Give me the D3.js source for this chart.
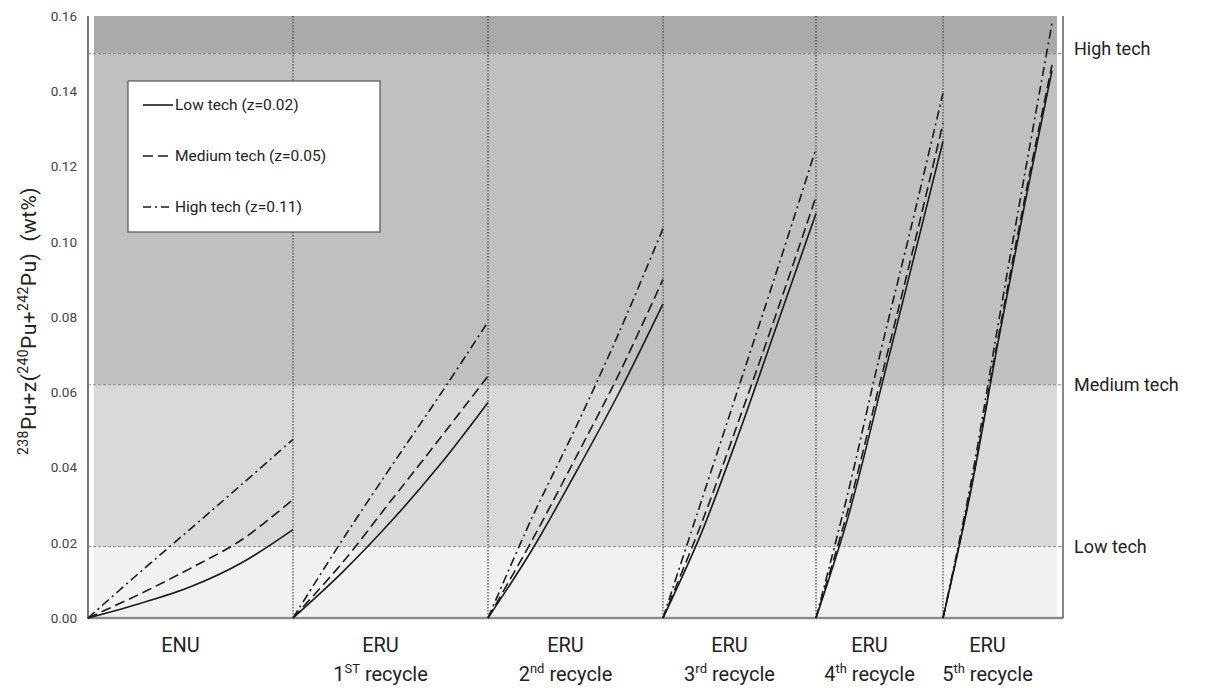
<!DOCTYPE html>
<html>
<head>
<meta charset="UTF-8">
<title>Pu figure of merit by recycle</title>
<style>
  body { margin: 0; background: #fff; }
  svg { font-family: Roboto, "Liberation Sans", sans-serif; }
</style>
</head>
<body>
<svg width="1211" height="688"></svg>
<script src="https://cdn.jsdelivr.net/npm/d3@7/dist/d3.min.js"></script>
<script>
// segment boundaries along the (arbitrary) irradiation axis
const segStarts = [0, 205, 400, 575, 728, 855];
const segEnds = [205, 400, 575, 728, 855, 964];
const segNames = ["ENU", "ERU", "ERU", "ERU", "ERU", "ERU"];
const segSub = [null, ["1", "ST"], ["2", "nd"], ["3", "rd"], ["4", "th"], ["5", "th"]];

// fraction of each segment at which values were read
const frac = [0, 0.25, 0.5, 0.75, 1];

// values (wt%) per segment
const lowTech = [
  [0, 0.0038, 0.0083, 0.0147, 0.0235],
  [0, 0.012, 0.0255, 0.0405, 0.0573],
  [0, 0.018, 0.0385, 0.060, 0.0835],
  [0, 0.0225, 0.0495, 0.0785, 0.1075],
  [0, 0.0265, 0.0595, 0.093, 0.1267],
  [0, 0.033, 0.0725, 0.110, 0.1455]
];
const mediumTech = [
  [0, 0.0063, 0.0132, 0.0208, 0.0315],
  [0, 0.0145, 0.031, 0.0475, 0.0643],
  [0, 0.0205, 0.0425, 0.065, 0.090],
  [0, 0.025, 0.053, 0.082, 0.112],
  [0, 0.0285, 0.062, 0.096, 0.1315],
  [0, 0.0335, 0.0735, 0.1115, 0.147]
];
const highTech = [
  [0, 0.012, 0.0237, 0.0355, 0.0475],
  [0, 0.0205, 0.040, 0.059, 0.0787],
  [0, 0.0265, 0.0505, 0.076, 0.1035],
  [0, 0.031, 0.062, 0.093, 0.1248],
  [0, 0.033, 0.0695, 0.104, 0.1395],
  [0, 0.035, 0.077, 0.118, 0.158]
];

const thresholds = [0.019, 0.062, 0.15];
const thresholdLabels = ["Low tech", "Medium tech", "High tech"];
const bandEdges = [0, 0.019, 0.062, 0.15, 0.16];
const bandColors = ["#f1f1f1", "#d9d9d9", "#c0c0c0", "#aaaaaa"];
const yTicks = [0, 0.02, 0.04, 0.06, 0.08, 0.10, 0.12, 0.14, 0.16];

const series = [
  { name: "Low tech (z=0.02)", values: lowTech, dash: null, legendDash: null },
  { name: "Medium tech (z=0.05)", values: mediumTech, dash: "10,5", legendDash: "10,5" },
  { name: "High tech (z=0.11)", values: highTech, dash: "9,4,2,4", legendDash: "8,4,2,4" }
];

const svg = d3.select("svg");
const mLeft = 88, mRight = 1063, mTop = 16, mBottom = 618;

const x = d3.scaleLinear().domain([0, 969]).range([mLeft, 1057]);
const y = d3.scaleLinear().domain([0, 0.16]).range([mBottom, mTop]);

// shaded bands
svg.append("g")
  .selectAll("rect")
  .data(bandColors)
  .enter()
  .append("rect")
  .attr("x", mLeft + 6)
  .attr("width", x(969) - mLeft - 6)
  .attr("y", (d, i) => y(bandEdges[i + 1]))
  .attr("height", (d, i) => y(bandEdges[i]) - y(bandEdges[i + 1]) - (i === 0 ? 2 : 0))
  .attr("fill", d => d);

// threshold dashed lines
svg.append("g")
  .selectAll("line")
  .data(thresholds)
  .enter()
  .append("line")
  .attr("x1", mLeft)
  .attr("x2", mRight)
  .attr("y1", d => y(d))
  .attr("y2", d => y(d))
  .attr("stroke", "#8f8f8f")
  .attr("stroke-width", 1.2)
  .attr("stroke-dasharray", "3,2");

// segment boundaries
svg.append("g")
  .selectAll("line")
  .data(segStarts.slice(1))
  .enter()
  .append("line")
  .attr("x1", d => x(d))
  .attr("x2", d => x(d))
  .attr("y1", mTop)
  .attr("y2", mBottom)
  .attr("stroke", "#444")
  .attr("stroke-width", 1.2)
  .attr("stroke-dasharray", "1.5,1.5");

// axes frame
svg.append("line").attr("x1", mLeft).attr("x2", mLeft).attr("y1", mTop).attr("y2", mBottom + 1)
  .attr("stroke", "#7a7a7a").attr("stroke-width", 2);
svg.append("line").attr("x1", mLeft).attr("x2", mRight).attr("y1", mBottom).attr("y2", mBottom)
  .attr("stroke", "#8a8a8a").attr("stroke-width", 2.5);
svg.append("line").attr("x1", mRight).attr("x2", mRight).attr("y1", mTop).attr("y2", mBottom)
  .attr("stroke", "#555").attr("stroke-width", 1.4);

// y axis ticks
const yAxis = svg.append("g")
  .attr("transform", `translate(${mLeft},0)`)
  .call(d3.axisLeft(y).tickValues(yTicks).tickFormat(d3.format(".2f")).tickSize(0).tickPadding(11));
yAxis.select(".domain").remove();
yAxis.selectAll("text")
  .attr("font-size", 13.5)
  .attr("fill", "#444")
  .attr("font-family", "Roboto, sans-serif");

// y axis title
const yTitle = svg.append("text")
  .attr("transform", `translate(36,${(mTop + mBottom) / 2 + 4}) rotate(-90)`)
  .attr("text-anchor", "middle")
  .attr("font-size", 21)
  .attr("letter-spacing", 0.4)
  .attr("fill", "#222");
[["238", true], ["Pu+z(", false], ["240", true], ["Pu+", false], ["242", true], ["Pu)  (wt%)", false]]
  .forEach(([t, sup]) => {
    yTitle.append("tspan")
      .attr("baseline-shift", sup ? "super" : null)
      .attr("font-size", sup ? 14 : 21)
      .attr("xml:space", "preserve")
      .text(t);
  });

// curves
const line = d3.line()
  .x(d => x(d[0]))
  .y(d => y(d[1]))
  .curve(d3.curveCatmullRom.alpha(0.5));

series.forEach(s => {
  svg.append("g")
    .selectAll("path")
    .data(s.values)
    .enter()
    .append("path")
    .attr("d", (vals, i) => line(vals.map((v, k) => [segStarts[i] + frac[k] * (segEnds[i] - segStarts[i]), v])))
    .attr("fill", "none")
    .attr("stroke", "#1a1a1a")
    .attr("stroke-width", 1.6)
    .attr("stroke-dasharray", s.dash);
});

// legend
const legend = svg.append("g");
legend.append("rect")
  .attr("x", 128).attr("y", 81).attr("width", 252).attr("height", 151)
  .attr("fill", "#fff").attr("stroke", "#555").attr("stroke-width", 1.2);
const entry = legend.selectAll(".entry")
  .data(series)
  .enter()
  .append("g")
  .attr("transform", (d, i) => `translate(143,${105 + i * 51})`);
entry.append("line")
  .attr("x1", 0).attr("x2", 30).attr("y1", 0).attr("y2", 0)
  .attr("stroke", "#1a1a1a").attr("stroke-width", 1.6)
  .attr("stroke-dasharray", d => d.legendDash);
entry.append("text")
  .attr("x", 32).attr("y", 5)
  .attr("font-size", 15.5)
  .attr("fill", "#222")
  .text(d => d.name);

// right-hand threshold labels
svg.append("g")
  .selectAll("text")
  .data(thresholds)
  .enter()
  .append("text")
  .attr("x", 1074)
  .attr("y", d => y(d) + (d === 0.15 ? 1 : 6))
  .attr("font-size", 18)
  .attr("fill", "#222")
  .text((d, i) => thresholdLabels[i]);

// bottom segment labels
const segLabel = svg.append("g")
  .selectAll("g")
  .data(segNames.map((name, i) => ({ name, sub: segSub[i], i })))
  .enter()
  .append("g")
  .attr("transform", d => `translate(${(x(segStarts[d.i]) + x(segEnds[d.i])) / 2 - 10},0)`);
segLabel.append("text")
  .attr("y", 652)
  .attr("text-anchor", "middle")
  .attr("font-size", 20)
  .attr("fill", "#222")
  .text(d => d.name);
const subText = segLabel.filter(d => d.sub)
  .append("text")
  .attr("y", 681)
  .attr("text-anchor", "middle")
  .attr("font-size", 20)
  .attr("fill", "#222");
subText.append("tspan").text(d => d.sub[0]);
subText.append("tspan").attr("dy", -8).attr("font-size", 13).text(d => d.sub[1]);
subText.append("tspan").attr("dy", 8).text(" recycle");
</script>
</body>
</html>
